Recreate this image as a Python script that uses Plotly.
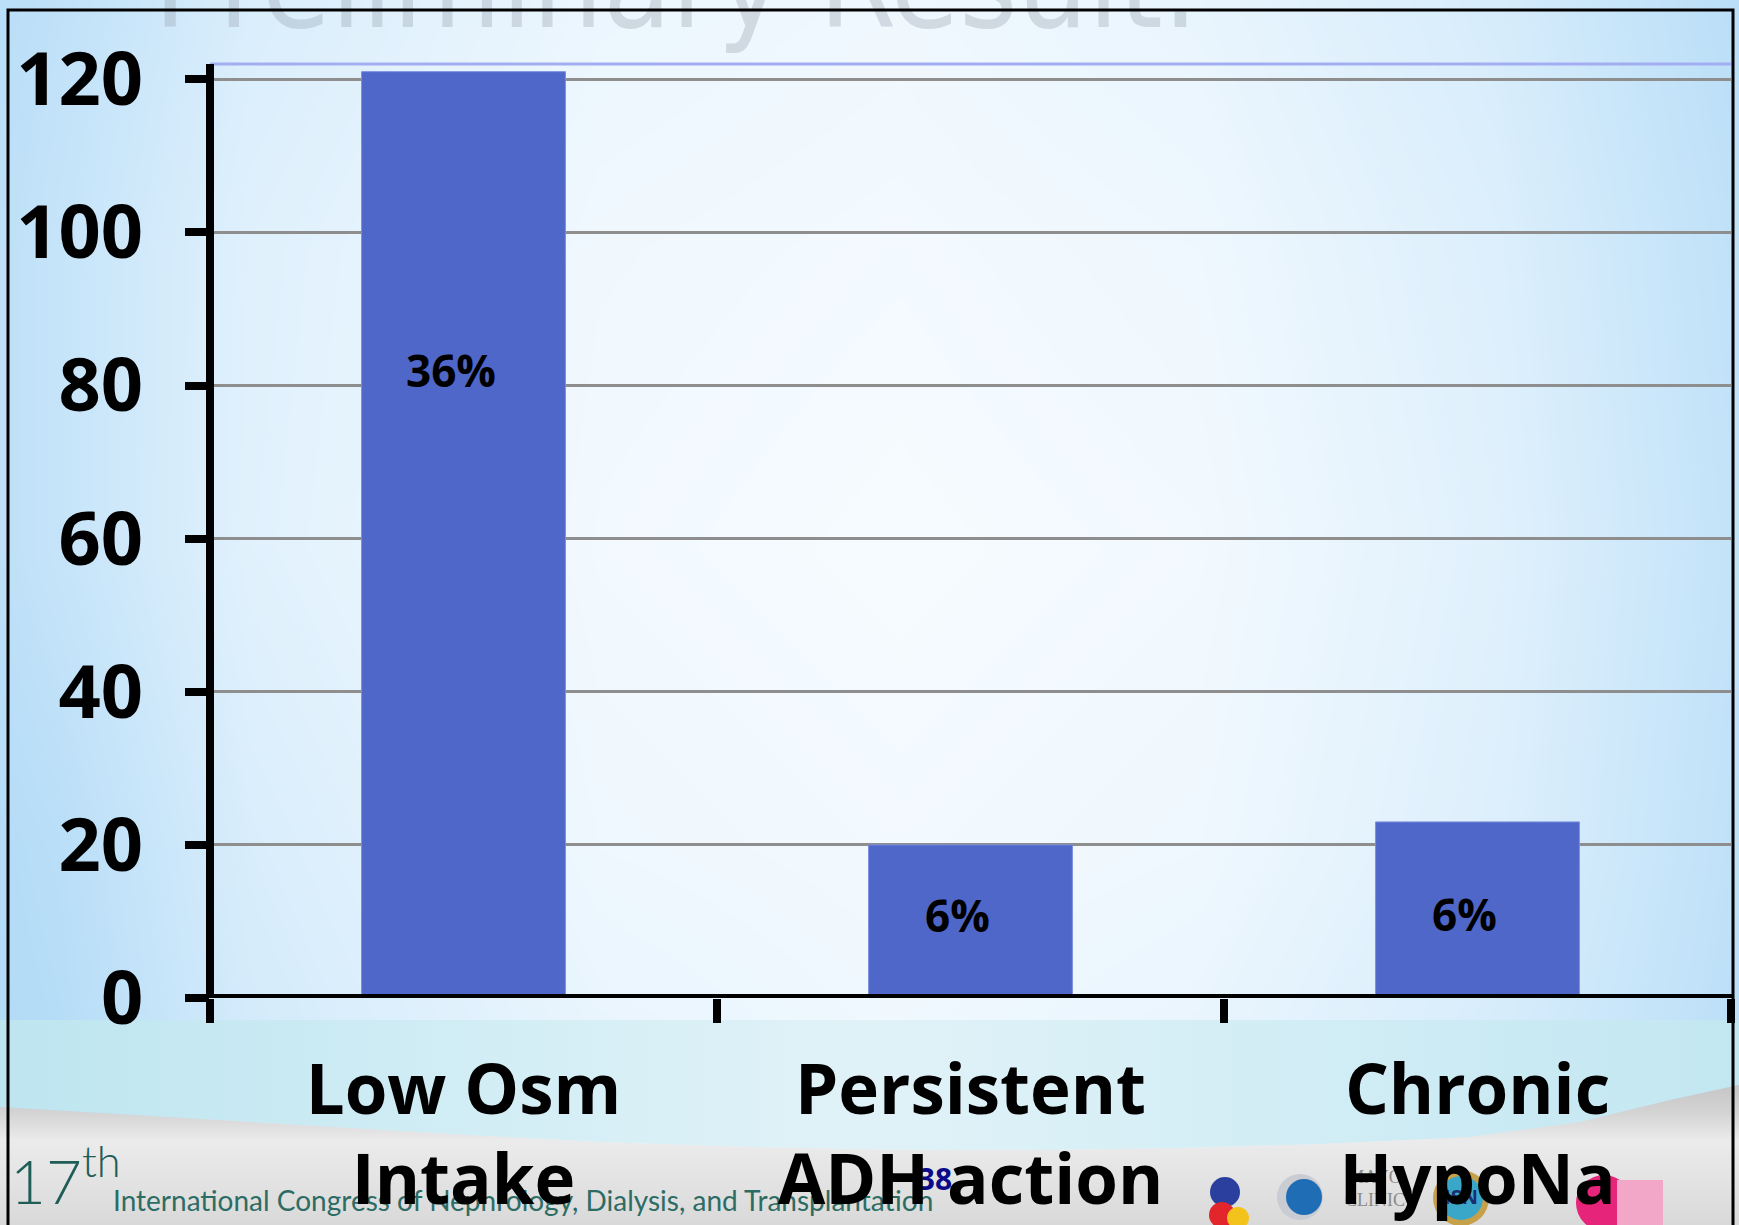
import plotly.graph_objects as go

# ---- chart data ----
categories = ["Low Osm<br>Intake", "Persistent<br>ADH action", "Chronic<br>HypoNa"]
values = [121, 20, 23]
bar_labels = ["36%", "6%", "6%"]
y_ticks = [0, 20, 40, 60, 80, 100, 120]

W, H = 1739, 1225
BAR_COLOR = "#4e67c8"
FONT = "Open Sans"

fig = go.Figure()

# ---- slide background (full-page pixel subplot: x/y) ----
# smooth sky: bluish at both sides, near white in the middle
sky_x = [-100, 60, 250, 600, 900, 1200, 1500, 1680, 1840]
sky_y = [-50, 250, 550, 850, 1080]
sky_z = [
    [0.95, 0.75, 0.40, 0.15, 0.10, 0.20, 0.45, 0.75, 0.95],
    [0.95, 0.65, 0.30, 0.08, 0.04, 0.10, 0.35, 0.65, 0.90],
    [0.95, 0.65, 0.28, 0.05, 0.00, 0.05, 0.30, 0.60, 0.88],
    [1.00, 0.82, 0.40, 0.10, 0.05, 0.10, 0.35, 0.65, 0.92],
    [1.00, 0.88, 0.48, 0.20, 0.10, 0.20, 0.45, 0.72, 0.95],
]
fig.add_trace(go.Heatmap(
    x=sky_x, y=sky_y, z=sky_z, zsmooth="best", zmin=0, zmax=1,
    colorscale=[[0, "#f6fbff"], [1, "#acd8f6"]], showscale=False,
    hoverinfo="skip", xaxis="x", yaxis="y"))

def poly(xs, ys, grad, name):
    fig.add_trace(go.Scatter(
        x=xs, y=ys, mode="lines", fill="toself", line=dict(width=0),
        fillgradient=grad, hoverinfo="skip", showlegend=False, name=name,
        xaxis="x", yaxis="y"))

# cyan band under the chart
wave_x = [0, 150, 300, 450, 600, 750, 900, 1050, 1180, 1320, 1470, 1580, 1670, 1739]
wave_y = [1107, 1116, 1125, 1134, 1142, 1147, 1150, 1150, 1148, 1144, 1137, 1122, 1100, 1085]
poly([0, W] + wave_x[::-1] + [0], [1020, 1020] + wave_y[::-1] + [1020],
     dict(type="horizontal", colorscale=[
         [0.0, "#bde5f0"], [0.3, "#d4eef5"], [0.5, "#e0f2f8"],
         [0.75, "#d2edf5"], [1.0, "#c2e7f1"]]), "band")

# grey footer wave
poly(wave_x + [W, 0, 0], wave_y + [H, H, wave_y[0]],
     dict(type="vertical", colorscale=[
         [0.0, "#d9d9d9"], [0.35, "#e4e4e4"], [0.6, "#ebebeb"],
         [0.8, "#d4d4d4"], [1.0, "#c6c6c6"]]), "footer")

# faded title remnant at the very top
fig.add_trace(go.Scatter(
    x=[676], y=[58], mode="text", text=["Preliminary Result."],
    textposition="top center",
    textfont=dict(family="DejaVu Sans Condensed", size=124,
                  color="rgba(140,150,162,0.30)"),
    hoverinfo="skip", showlegend=False, xaxis="x", yaxis="y"))

# footer texts
def text(x, y, s, size, color, family="Lato", weight="normal", pos="middle right"):
    fig.add_trace(go.Scatter(
        x=[x], y=[y], mode="text", text=[s], textposition=pos,
        textfont=dict(family=family, size=size, color=color, weight=weight),
        hoverinfo="skip", showlegend=False, xaxis="x", yaxis="y"))

text(10, 1188, "17<sup>th</sup>", 62, "#1f5e57", family="Lato", weight=300)
text(113, 1204, "International Congress of Nephrology, Dialysis, and Transplantation",
     28, "#2d6c64", family="Lato")
text(935, 1182, "38", 30, "#0a0a8a", family=FONT, weight="bold", pos="middle center")

# sponsor marks in the footer
def mark(x, y, size, color, symbol="circle", line_color=None, line_w=0):
    fig.add_trace(go.Scatter(
        x=[x], y=[y], mode="markers",
        marker=dict(size=size, color=color, symbol=symbol,
                    line=dict(color=line_color or color, width=line_w)),
        hoverinfo="skip", showlegend=False, xaxis="x", yaxis="y"))

mark(1165, 1206, 40, "rgba(0,0,0,0)", "square-open", "#2f9f80", 5)
mark(1225, 1192, 30, "#2b3f9e")
mark(1222, 1215, 26, "#e2262b")
mark(1238, 1218, 22, "#f3c31c")
mark(1235, 1203, 64, "rgba(0,0,0,0)", "circle-open", "#2a2a2a", 3)
mark(1300, 1197, 46, "#c9ccd2")
mark(1304, 1197, 36, "#1f6db5")
text(1375, 1190, "MAYO<br>CLINIC", 18, "#8a8a8a", family="Liberation Serif", pos="middle center")
mark(1461, 1198, 56, "#c7a04a")
mark(1461, 1198, 44, "#3aa6c8")
text(1461, 1199, "ISN", 20, "#1b2f70", family=FONT, weight="bold", pos="middle center")
mark(1604, 1203, 56, "#e62479")
mark(1640, 1203, 46, "#f2a7c9", "square")

# ---- bar chart (subplot x2/y2) ----
fig.add_trace(go.Bar(
    x=categories, y=values, width=0.402,
    marker=dict(color=BAR_COLOR, line=dict(color="#7a8ee0", width=1)),
    hoverinfo="skip", showlegend=False, xaxis="x2", yaxis="y2"))

# percentage labels inside the bars
label_pos = [82, 10.8, 11]
annotations = []
for cat, lab, yp in zip(categories, bar_labels, label_pos):
    annotations.append(dict(
        x=cat, y=yp, xref="x2", yref="y2", text=lab, showarrow=False,
        xshift=-13, font=dict(family=FONT, size=44, color="black", weight="bold")))

x0d, x1d = 210 / W, 1731 / W
y0d, y1d = (H - 998) / H, (H - 64) / H

shapes = [
    # plot top border
    dict(type="line", xref="x2 domain", yref="y2 domain", x0=0, x1=1, y0=1, y1=1,
         line=dict(color="#a3adf2", width=3), layer="above"),
    # value axis line
    dict(type="line", xref="x2 domain", yref="y2 domain", x0=0, x1=0, y0=0, y1=1,
         line=dict(color="black", width=8), layer="above"),
    # category axis line
    dict(type="line", xref="x2 domain", yref="y2", x0=-0.003, x1=1.002, y0=0, y1=0,
         line=dict(color="black", width=8), layer="above"),
    # slide frame
    dict(type="rect", xref="x", yref="y", x0=8, x1=1733, y0=10, y1=H + 20,
         line=dict(color="black", width=3), fillcolor="rgba(0,0,0,0)", layer="above"),
]

fig.update_layout(
    width=W, height=H, autosize=False,
    margin=dict(l=0, r=0, t=0, b=0, pad=0, autoexpand=False),
    paper_bgcolor="#aad6f5", plot_bgcolor="rgba(0,0,0,0)",
    showlegend=False,
    xaxis=dict(domain=[0, 1], range=[0, W], visible=False, fixedrange=True,
               automargin=False),
    yaxis=dict(domain=[0, 1], range=[H, 0], visible=False, fixedrange=True,
               automargin=False),
    xaxis2=dict(domain=[x0d, x1d], anchor="y2", type="category", automargin=False,
                showline=False, showgrid=False, zeroline=False,
                ticks="outside", tickson="boundaries", ticklen=24, tickwidth=8,
                tickcolor="black", ticklabelstandoff=46,
                tickfont=dict(family=FONT, size=69, color="black", weight="bold")),
    yaxis2=dict(domain=[y0d, y1d], anchor="x2", range=[0, 122], automargin=False,
                tickvals=y_ticks, showline=False, zeroline=False,
                showgrid=True, gridcolor="#8e8e8e", gridwidth=2.5,
                ticks="outside", ticklen=24, tickwidth=8, tickcolor="black",
                ticklabelstandoff=27,
                tickfont=dict(family=FONT, size=74, color="black", weight="bold")),
    annotations=annotations,
    shapes=shapes,
    bargap=0.6,
)

fig.write_html("out.html")
